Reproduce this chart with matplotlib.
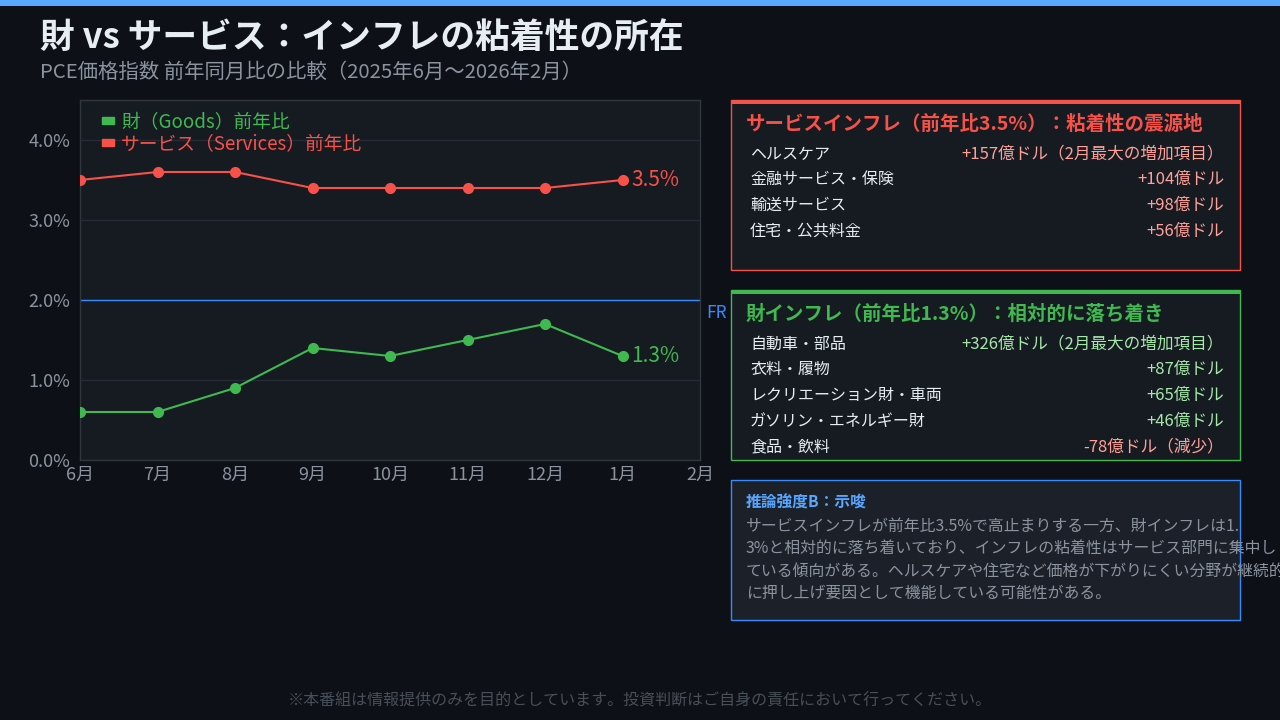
import matplotlib
matplotlib.use("Agg")
import matplotlib.pyplot as plt
from matplotlib.patches import Rectangle, Patch

plt.rcParams['font.family'] = ['Noto Sans CJK JP', 'DejaVu Sans']

months = ["6月", "7月", "8月", "9月", "10月", "11月", "12月", "1月", "2月"]
goods = [0.6, 0.6, 0.9, 1.4, 1.3, 1.5, 1.7, 1.3]
services = [3.5, 3.6, 3.6, 3.4, 3.4, 3.4, 3.4, 3.5]
fed_target = 2.0
yticks = [0.0, 1.0, 2.0, 3.0, 4.0]

svc_items = ["ヘルスケア", "金融サービス・保険", "輸送サービス", "住宅・公共料金"]
svc_vals = ["+157億ドル（2月最大の増加項目）", "+104億ドル", "+98億ドル", "+56億ドル"]
goods_items = ["自動車・部品", "衣料・履物", "レクリエーション財・車両", "ガソリン・エネルギー財", "食品・飲料"]
goods_vals = ["+326億ドル（2月最大の増加項目）", "+87億ドル", "+65億ドル", "+46億ドル", "-78億ドル（減少）"]
body_lines = [
    "サービスインフレが前年比3.5%で高止まりする一方、財インフレは1.",
    "3%と相対的に落ち着いており、インフレの粘着性はサービス部門に集中し",
    "ている傾向がある。ヘルスケアや住宅など価格が下がりにくい分野が継続的",
    "に押し上げ要因として機能している可能性がある。",
]

BG = "#0d1117"
PANEL = "#161b22"
RED = "#f85149"
GREEN = "#3fb950"
BLUE = "#388bfd"
WHITE = "#e6edf3"
GRAY = "#8b949e"

W, H = 1280, 720
fig = plt.figure(figsize=(12.8, 7.2), dpi=100, facecolor=BG)

def fx(x):
    return x / W

def fy(y):
    return 1 - y / H

# top bar
fig.patches.append(Rectangle((0, fy(6)), 1, 6 / H, transform=fig.transFigure,
                             facecolor="#58a6ff", edgecolor="none"))

fig.text(fx(40), fy(37), "財 vs サービス：インフレの粘着性の所在", color=WHITE,
         fontsize=25, fontweight="bold", va="center", ha="left")
fig.text(fx(40), fy(72), "PCE価格指数 前年同月比の比較（2025年6月〜2026年2月）", color=GRAY,
         fontsize=14.7, va="center", ha="left")

# chart
ax = fig.add_axes([fx(80), fy(460), fx(700) - fx(80), fy(100) - fy(460)])
ax.set_facecolor(PANEL)
x = list(range(len(goods)))
ax.plot(x, services, color=RED, lw=1.5, marker="o", ms=7, zorder=3)
ax.plot(x, goods, color=GREEN, lw=1.5, marker="o", ms=7, zorder=3)
ax.axhline(fed_target, color=BLUE, lw=1, zorder=2)
ax.text(1.01, fed_target - 0.05, "FR", transform=ax.get_yaxis_transform(), color=BLUE,
        fontsize=12.5, va="top", ha="left", clip_on=False)
ax.text(x[-1] + 0.11, services[-1], f"{services[-1]:.1f}%", color=RED, fontsize=15, va="center")
ax.text(x[-1] + 0.11, goods[-1], f"{goods[-1]:.1f}%", color=GREEN, fontsize=15, va="center")

ax.set_xlim(0, len(months) - 1)
ax.set_ylim(0, 4.5)
ax.set_xticks(range(len(months)))
ax.set_xticklabels(months)
ax.set_yticks(yticks)
ax.set_yticklabels([f"{v:.1f}%" for v in yticks])
ax.tick_params(colors=GRAY, labelsize=13, length=0)
ax.tick_params(axis="x", pad=4)
ax.tick_params(axis="y", pad=7)
ax.grid(axis="y", color="#262c36", lw=1)
ax.set_axisbelow(True)
for s in ax.spines.values():
    s.set_color("#30363d")
    s.set_linewidth(1)

handles = [Patch(color=GREEN), Patch(color=RED)]
leg = ax.legend(handles, ["財（Goods）前年比", "サービス（Services）前年比"], loc="upper left",
                bbox_to_anchor=(0.015, 1.005), frameon=False, fontsize=13.5, handlelength=0.6,
                handleheight=0.22, handletextpad=0.4, labelspacing=0.05, borderaxespad=0.3)
for t, c in zip(leg.get_texts(), [GREEN, RED]):
    t.set_color(c)

# boxes
def box(x0, y0, x1, y1, edge, face, top=True):
    fig.patches.append(Rectangle((fx(x0), fy(y1)), fx(x1) - fx(x0), fy(y0) - fy(y1),
                                 transform=fig.transFigure, facecolor=face, edgecolor=edge, lw=1))
    if top:
        fig.patches.append(Rectangle((fx(x0), fy(y0 + 4)), fx(x1) - fx(x0), 4 / H,
                                     transform=fig.transFigure, facecolor=edge, edgecolor="none"))

box(731, 100, 1240, 270, RED, PANEL)
fig.text(fx(746), fy(124), "サービスインフレ（前年比3.5%）：粘着性の震源地", color=RED,
         fontsize=14, fontweight="bold", va="center")
for i, (a, b) in enumerate(zip(svc_items, svc_vals)):
    yy = 154 + i * 25.7
    fig.text(fx(750), fy(yy), a, color=WHITE, fontsize=11.5, va="center")
    fig.text(fx(1224), fy(yy), b, color="#ffa198", fontsize=12, va="center", ha="right")

box(731, 290, 1240, 460, GREEN, PANEL)
fig.text(fx(746), fy(314), "財インフレ（前年比1.3%）：相対的に落ち着き", color=GREEN,
         fontsize=14, fontweight="bold", va="center")
for i, (a, b) in enumerate(zip(goods_items, goods_vals)):
    yy = 344 + i * 25.7
    fig.text(fx(750), fy(yy), a, color=WHITE, fontsize=11.5, va="center")
    col = "#ffa198" if b.startswith("-") else "#a5e8a9"
    fig.text(fx(1224), fy(yy), b, color=col, fontsize=12, va="center", ha="right")

box(731, 480, 1240, 620, BLUE, "#1c2129", top=False)
fig.text(fx(746), fy(503), "推論強度B：示唆", color="#58a6ff", fontsize=11.3, fontweight="bold", va="center")
for i, line in enumerate(body_lines):
    fig.text(fx(746), fy(526 + i * 22.5), line, color=GRAY, fontsize=11.4, va="center")

fig.text(0.5, fy(701), "※本番組は情報提供のみを目的としています。投資判断はご自身の責任において行ってください。",
         color="#484f58", fontsize=11.5, ha="center", va="center")

fig.savefig("out.png", dpi=100, facecolor=BG)
